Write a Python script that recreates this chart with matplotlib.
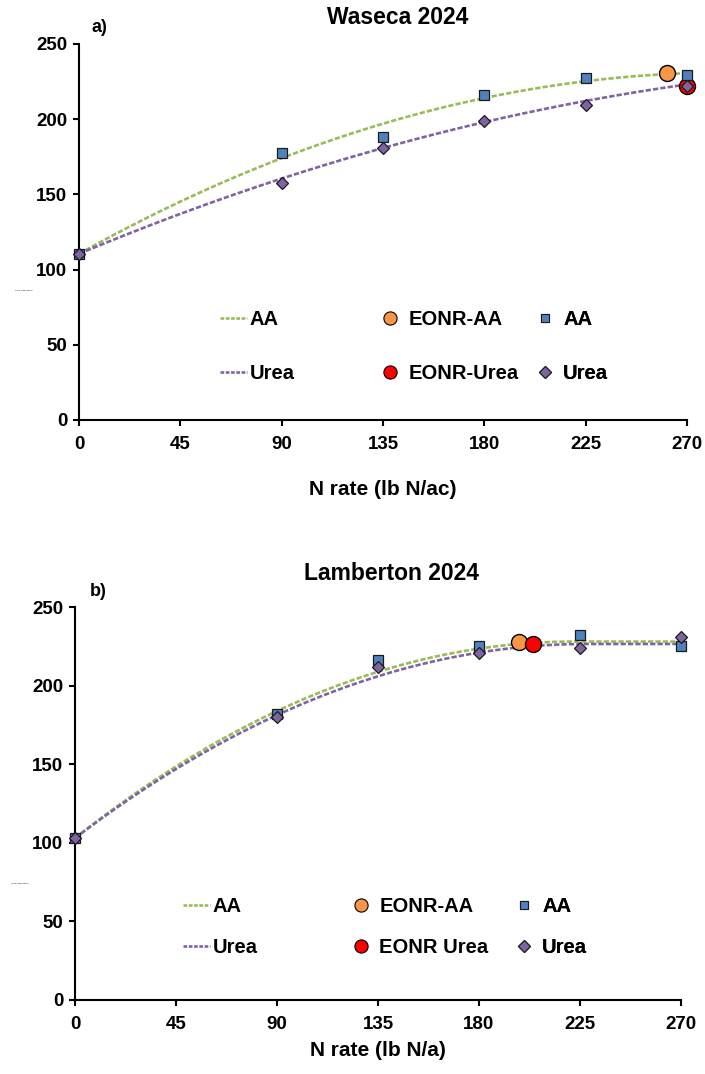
import numpy as np
import matplotlib
matplotlib.use("Agg")
import matplotlib.pyplot as plt
from matplotlib.lines import Line2D

plt.rcParams['font.family'] = ['Liberation Sans', 'DejaVu Sans']
plt.rcParams['font.weight'] = 'bold'

# ---------------- data ----------------
n_rates = [0, 90, 135, 180, 225, 270]
x_ticks = [0, 45, 90, 135, 180, 225, 270]
y_ticks = [0, 50, 100, 150, 200, 250]

# Waseca 2024
waseca_aa = [110.5, 177.5, 188, 216, 227.5, 229.5]
waseca_urea = [110.5, 157.5, 181, 199, 209.5, 222]
waseca_eonr_aa = (261, 230.5)
waseca_eonr_urea = (270, 222)
# fitted response curves: intercept, linear, quadratic, join point
waseca_aa_fit = (110.5, 0.837, -0.001453, 288)
waseca_urea_fit = (110.5, 0.625, -0.00077, 406)

# Lamberton 2024
lamb_aa = [103, 182, 216, 225.5, 232, 225]
lamb_urea = [103, 180, 212, 221, 224, 231]
lamb_eonr_aa = (198, 228)
lamb_eonr_urea = (204, 226.5)
lamb_aa_fit = (103, 1.1261, -0.002536, 222)
lamb_urea_fit = (103, 1.0833, -0.002376, 228)

C_AA_LINE = '#9BBB59'
C_UREA_LINE = '#8064A2'
C_SQ = '#4F81BD'
C_DIA = '#8064A2'
C_ORANGE = '#F79646'
C_RED = '#FF0000'


def qp(fit, x):
    a, b, c, j = fit
    xx = np.minimum(x, j)
    return a + b * xx + c * xx ** 2


fig = plt.figure(figsize=(7.05, 10.74), dpi=100)

panels = [
    dict(rect=[79/705, 1-420/1074, 608/705, 376/1074], aa=waseca_aa, urea=waseca_urea,
         eaa=waseca_eonr_aa, eu=waseca_eonr_urea, faa=waseca_aa_fit, fu=waseca_urea_fit,
         title='Waseca 2024', tpos=(398/705, 1-18/1074), tag='a)', tagpos=(99/705, 1-28/1074),
         xlabel='N rate (lb N/ac)', xlab_y=-0.16, eu_label='EONR-Urea',
         leg_x=[(220-79)/608, (376-79)/608, (531-79)/608], leg_y=(420-346.5)/376,
         labelspacing=1.75, ylab_y=(420-291)/376),
    dict(rect=[75/705, 1-1000/1074, 606/705, 393/1074], aa=lamb_aa, urea=lamb_urea,
         eaa=lamb_eonr_aa, eu=lamb_eonr_urea, faa=lamb_aa_fit, fu=lamb_urea_fit,
         title='Lamberton 2024', tpos=(392/705, 1-573/1074), tag='b)', tagpos=(98/705, 1-592/1074),
         xlabel='N rate (lb N/a)', xlab_y=-0.105, eu_label='EONR Urea',
         leg_x=[(183-75)/606, (347-75)/606, (510-75)/606], leg_y=(1000-927)/393,
         labelspacing=1.1, ylab_y=(1000-883)/393),
]

xs = np.linspace(0, 270, 300)

for p in panels:
    ax = fig.add_axes(p['rect'])
    ax.plot(xs, qp(p['faa'], xs), color=C_AA_LINE, lw=1.9, ls=(0, (2.0, 0.8)), zorder=2)
    ax.plot(xs, qp(p['fu'], xs), color=C_UREA_LINE, lw=1.9, ls=(0, (2.0, 0.8)), zorder=2)
    ax.plot([p['eaa'][0]], [p['eaa'][1]], 'o', ms=11.5, mfc=C_ORANGE, mec='black', mew=1.0,
            zorder=3, clip_on=False)
    ax.plot([p['eu'][0]], [p['eu'][1]], 'o', ms=11.5, mfc=C_RED, mec='black', mew=1.0,
            zorder=4, clip_on=False)
    ax.plot(n_rates, p['aa'], 's', ms=6.5, mfc=C_SQ, mec='#1a1a1a', mew=0.9, ls='none',
            zorder=5, clip_on=False)
    ax.plot(n_rates, p['urea'], 'D', ms=6.2, mfc=C_DIA, mec='#1a1a1a', mew=0.9, ls='none',
            zorder=6, clip_on=False)

    ax.set_xlim(0, 270)
    ax.set_ylim(0, 250)
    ax.set_xticks(x_ticks)
    ax.set_yticks(y_ticks)
    for s in ['top', 'right']:
        ax.spines[s].set_visible(False)
    for s in ['left', 'bottom']:
        ax.spines[s].set_linewidth(1.5)
    ax.tick_params(axis='both', direction='out', length=4.5, width=1.5, labelsize=13.5)
    ax.tick_params(axis='y', pad=4)
    ax.tick_params(axis='x', pad=7)
    for lab in ax.get_xticklabels() + ax.get_yticklabels():
        lab.set_fontweight('bold')
    for l in ax.get_xticklines() + ax.get_yticklines():
        l.set_clip_on(False)
    ax.set_xlabel(p['xlabel'], fontsize=15, fontweight='bold')
    ax.xaxis.set_label_coords(0.5, p['xlab_y'])
    ax.text(-0.105, p['ylab_y'], 'Grain Yield (bu/ac)', transform=ax.transAxes,
            fontsize=1.5, ha='left', va='center', fontweight='normal')

    fig.text(p['tpos'][0], p['tpos'][1], p['title'], ha='center', va='center',
             fontsize=16.5, fontweight='bold')
    fig.text(p['tagpos'][0], p['tagpos'][1], p['tag'], ha='center', va='center',
             fontsize=13, fontweight='bold')

    col_handles = [
        ([Line2D([], [], color=C_AA_LINE, lw=1.9, ls=(0, (1.4, 0.6))),
          Line2D([], [], color=C_UREA_LINE, lw=1.9, ls=(0, (1.4, 0.6)))], ['AA', 'Urea'], 0.12),
        ([Line2D([], [], marker='o', ms=9.5, mfc=C_ORANGE, mec='black', mew=0.8, ls='none'),
          Line2D([], [], marker='o', ms=9.5, mfc=C_RED, mec='black', mew=0.8, ls='none')],
         ['EONR-AA', p['eu_label']], 0.25),
        ([Line2D([], [], marker='s', ms=6, mfc=C_SQ, mec='#1a1a1a', mew=0.8, ls='none'),
          Line2D([], [], marker='D', ms=6, mfc=C_DIA, mec='#1a1a1a', mew=0.8, ls='none')],
         ['AA', 'Urea'], 0.25),
    ]
    for (hs, ls_, pad), lx in zip(col_handles, p['leg_x']):
        leg = ax.legend(hs, ls_, loc='center left', bbox_to_anchor=(lx, p['leg_y']),
                        frameon=False, borderpad=0, borderaxespad=0, handlelength=1.35,
                        handletextpad=pad, labelspacing=p['labelspacing'],
                        prop={'size': 14.5, 'weight': 'bold'})
        ax.add_artist(leg)

fig.savefig('out.png', dpi=100)
